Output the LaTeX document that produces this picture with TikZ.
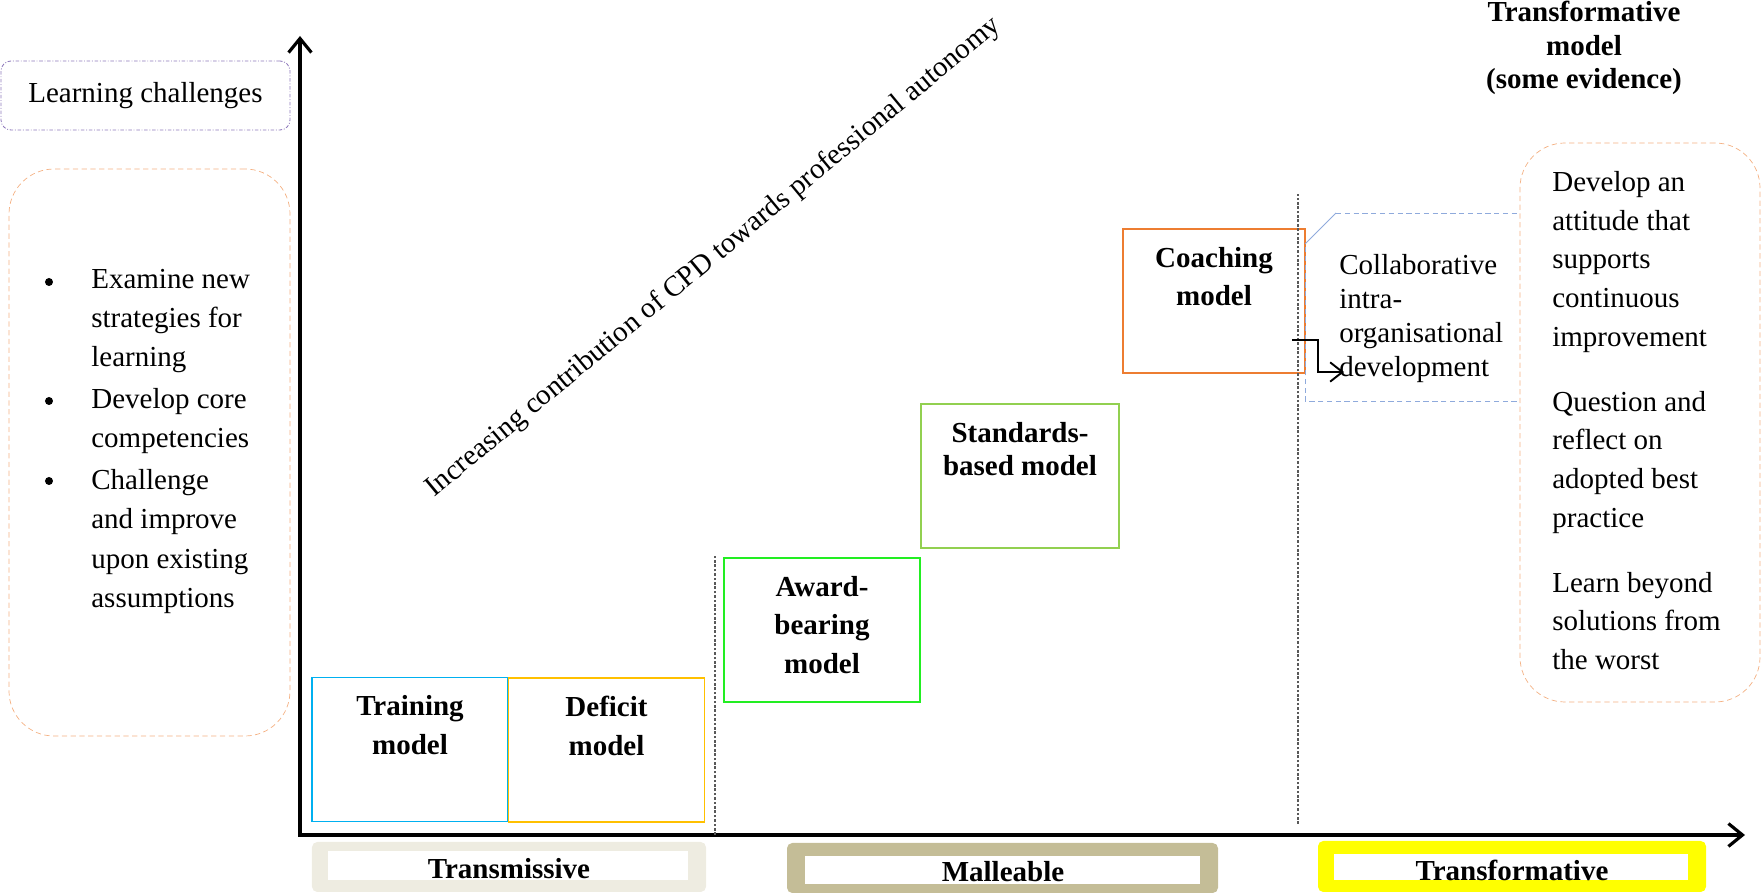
\documentclass[tikz,border=0pt]{standalone}
\usepackage{fontspec}
\setmainfont{Liberation Serif}
\usetikzlibrary{arrows.meta,positioning}

\definecolor{trainblue}{HTML}{00B0F0}
\definecolor{deficitgold}{HTML}{FFC000}
\definecolor{awardgreen}{HTML}{22EE22}
\definecolor{standardgreen}{HTML}{92D050}
\definecolor{coachorange}{HTML}{ED7D31}
\definecolor{calloutblue}{HTML}{8FAADC}
\definecolor{softorange}{HTML}{F4B183}
\definecolor{lilac}{HTML}{8F7ABC}
\definecolor{stagegrey}{HTML}{EEECE1}
\definecolor{stagekhaki}{HTML}{C4BD97}
\definecolor{stageyellow}{HTML}{FFFF00}

\begin{document}
\begin{tikzpicture}[
    font=\fontsize{16.5}{22}\selectfont,
    >={Straight Barb[length=7pt,width=11pt]},
    axis/.style={line width=1.8pt, {Straight Barb[length=8pt,width=13pt]}-{Straight Barb[length=8pt,width=13pt]}},
    modelbox/.style={draw, line width=0.8pt, minimum width=3.92cm, minimum height=2.88cm, inner sep=0pt},
    modeltext/.style={font=\fontsize{16.5}{22}\selectfont\bfseries, align=center, inner sep=0pt},
    plain/.style={align=left, inner sep=0pt, anchor=north west},
    bullet/.style={circle, fill=black, inner sep=0pt, minimum size=0.16cm},
    divider/.style={dash pattern=on 1.5pt off 1pt, black!65, line width=0.6pt},
    stage/.style={rounded corners=3pt, minimum height=1cm, inner sep=0pt},
    stagein/.style={fill=white, inner sep=0pt},
    stagetext/.style={font=\fontsize{16.5}{20}\selectfont\bfseries, inner sep=0pt}
]
    \useasboundingbox (-6,-1.2) rectangle (29.24,16.7);

    \coordinate (origin) at (0,0);
    \coordinate (ytip) at (0,15.98);
    \coordinate (xtip) at (28.9,0);
    \draw[axis] (ytip) -- (origin) -- (xtip);

    \node[draw=lilac, line width=0.5pt, dash pattern=on 2pt off 1pt on 0.5pt off 1pt, rounded corners=0.2cm,
          minimum width=5.78cm, minimum height=1.38cm] (challenges) at (-3.09,14.79) {Learning challenges};

    \node[draw=softorange, densely dashed, line width=0.4pt, rounded corners=0.9cm,
          minimum width=5.62cm, minimum height=11.34cm] (tasks) at (-3.01,7.65) {};
    \node[plain, font=\fontsize{16.5}{22.3}\selectfont] (tasklist) at (-4.18,11.32)
        {Examine new\\strategies for\\learning\\[1.5pt]Develop core\\competencies\\[1.5pt]Challenge\\and improve\\upon existing\\assumptions};
    \foreach \y [count=\i] in {11.06,8.68,7.08}
        \node[bullet] (dot\i) at (-5.02,\y) {};

    \node[rotate=39.6] (autonomy) at (8.27,11.55) {Increasing contribution of CPD towards professional autonomy};

    \node[modelbox, draw=trainblue] (train) at (2.2,1.71) {};
    \node[modeltext, below=10.5pt of train.north] (traintext) {Training\\model};
    \node[modelbox, draw=deficitgold] (deficit) at (6.13,1.7) {};
    \node[modeltext, below=10.5pt of deficit.north] (deficittext) {Deficit\\model};
    \node[modelbox, draw=awardgreen] (award) at (10.44,4.1) {};
    \node[modeltext, below=10.5pt of award.north] (awardtext) {Award-\\bearing\\model};
    \node[modelbox, draw=standardgreen, minimum width=3.96cm] (standards) at (14.4,7.18) {};
    \node[modeltext, font=\fontsize{16.5}{19}\selectfont\bfseries, below=10.5pt of standards.north] (standardstext) {Standards-\\based model};
    \node[modelbox, draw=coachorange, minimum width=3.64cm] (coach) at (18.28,10.68) {};
    \node[modeltext, below=10.5pt of coach.north] (coachtext) {Coaching\\model};

    \draw[divider] (8.3,0) -- (8.3,5.6);
    \draw[divider] (19.96,0.22) -- (19.96,12.82);

    \draw[calloutblue, line width=0.5pt] (20.1,11.82) -- (20.72,12.44);
    \draw[calloutblue, line width=0.5pt, densely dashed] (20.72,12.44) -- (24.6,12.44) -- (24.6,8.68) -- (20.1,8.68) -- (20.1,11.82);
    \node[plain, font=\fontsize{16.5}{19.4}\selectfont] (collab) at (20.78,11.62)
        {Collaborative\\intra-\\organisational\\development};

    \coordinate (coachout) at (19.84,9.9);
    \coordinate (devtip) at (20.88,9.26);
    \draw[->, line width=1.1pt] (coachout) -- ++(0.52,0) |- (devtip);

    \node[draw=softorange, densely dashed, line width=0.4pt, fill=white, rounded corners=0.9cm,
          minimum width=4.8cm, minimum height=11.18cm] (gains) at (26.8,8.25) {};
    \node[plain] (gainstext) at (25.04,13.28)
        {Develop an\\attitude that\\supports\\continuous\\improvement\\[15pt]Question and\\reflect on\\adopted best\\practice\\[15pt]Learn beyond\\solutions from\\the worst};

    \node[modeltext, font=\fontsize{16.5}{19}\selectfont\bfseries, anchor=north] (transhead) at (25.68,16.68)
        {Transformative\\model\\(some evidence)};

    \node[stage, fill=stagegrey, minimum width=7.88cm] (transmissive) at (4.18,-0.64) {};
    \node[stagein, minimum width=7.2cm, minimum height=0.58cm] (transmissivein) at (4.16,-0.61) {};
    \node[stagetext] (transmissivetext) at (4.18,-0.68) {Transmissive};
    \node[stage, fill=stagekhaki, minimum width=8.62cm] (malleable) at (14.05,-0.66) {};
    \node[stagein, minimum width=7.9cm, minimum height=0.56cm] (malleablein) at (14.05,-0.7) {};
    \node[stagetext] (malleabletext) at (14.06,-0.74) {Malleable};
    \node[stage, fill=stageyellow, minimum width=7.76cm, minimum height=1.02cm] (transformative) at (24.24,-0.63) {};
    \node[stagein, minimum width=7.08cm, minimum height=0.52cm] (transformativein) at (24.22,-0.64) {};
    \node[stagetext] (transformativetext) at (24.24,-0.7) {Transformative};
\end{tikzpicture}
\end{document}
